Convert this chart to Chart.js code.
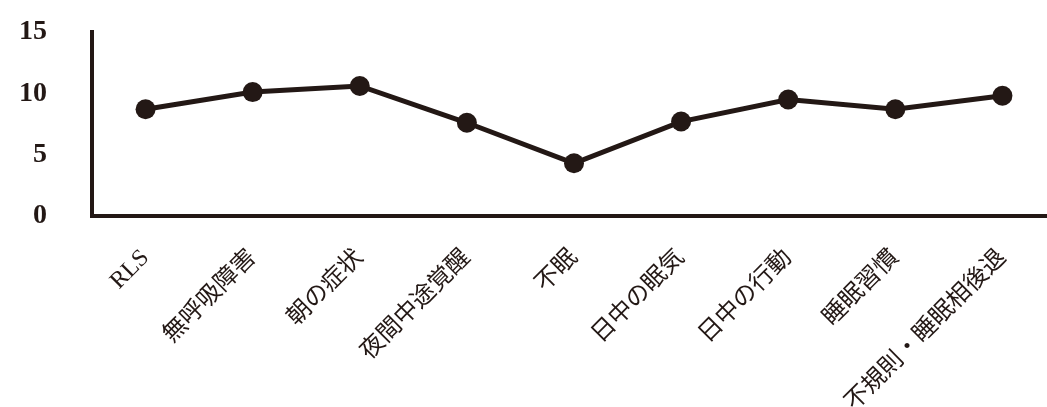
<!DOCTYPE html>
<html lang="ja">

<head>
    <meta charset="UTF-8">
    <title>Chart</title>
    <style>
        body {
            margin: 0;
            overflow: hidden;
            background: #fff;
        }

        #graph-container {
            width: 1066px;
            height: 407px;
        }
    </style>
</head>

<body>
    <div id="graph-container">
        <canvas id="Chart"></canvas>
    </div>

    <script src="https://cdn.jsdelivr.net/npm/chart.js@4/dist/chart.umd.min.js"></script>
    <script>
        // カテゴリ
        const categories = ["RLS", "無呼吸障害", "朝の症状", "夜間中途覚醒", "不眠", "日中の眠気", "日中の行動", "睡眠習慣", "不規則・睡眠相後退"];
        // 値
        const scores = [8.7, 10.1, 10.6, 7.6, 4.3, 7.7, 9.5, 8.7, 9.8];
        // 縦軸の目盛
        const yTicks = [0, 5, 10, 15];

        const ink = "#231815";
        const labelFont = "'Liberation Serif', 'Noto Sans CJK JP', serif";

        const ctx = document.getElementById("Chart").getContext("2d");
        const lineChart = new Chart(ctx, {
            type: "line",
            data: {
                labels: categories,
                datasets: [{
                    data: scores,
                    borderColor: ink,
                    backgroundColor: ink,
                    borderWidth: 5,
                    pointRadius: 10,
                    pointHoverRadius: 10,
                    pointBackgroundColor: ink,
                    pointBorderWidth: 0,
                    tension: 0,
                    fill: false,
                }],
            },
            options: {
                responsive: true,
                maintainAspectRatio: false,
                animation: false,
                layout: {
                    padding: { top: 32, right: 4, left: 0, bottom: 0 }
                },
                plugins: {
                    legend: { display: false },
                    tooltip: { enabled: false },
                },
                scales: {
                    x: {
                        offset: true,
                        grid: { display: false, drawTicks: false, offset: true },
                        border: { display: true, color: ink, width: 4 },
                        ticks: {
                            autoSkip: false,
                            minRotation: 45,
                            maxRotation: 45,
                            padding: 28,
                            color: ink,
                            font: { family: labelFont, size: 24 },
                        },
                        afterFit: (scale) => {
                            scale.height = 191;
                            scale.paddingLeft = 0;
                            scale.paddingRight = 0;
                            scale.paddingTop = 0;
                            scale.paddingBottom = 0;
                        },
                    },
                    y: {
                        min: 0,
                        max: 15,
                        afterBuildTicks: (scale) => {
                            scale.ticks = yTicks.map((v) => ({ value: v }));
                        },
                        grid: { display: false, drawTicks: false },
                        border: { display: true, color: ink, width: 4 },
                        ticks: {
                            padding: 45,
                            color: ink,
                            font: { family: "'Liberation Serif', serif", size: 28, weight: "bold" },
                        },
                        afterFit: (scale) => {
                            scale.width = 92;
                            scale.paddingTop = 0;
                            scale.paddingBottom = 0;
                        },
                    },
                },
            },
        });
    </script>

</body>

</html>
